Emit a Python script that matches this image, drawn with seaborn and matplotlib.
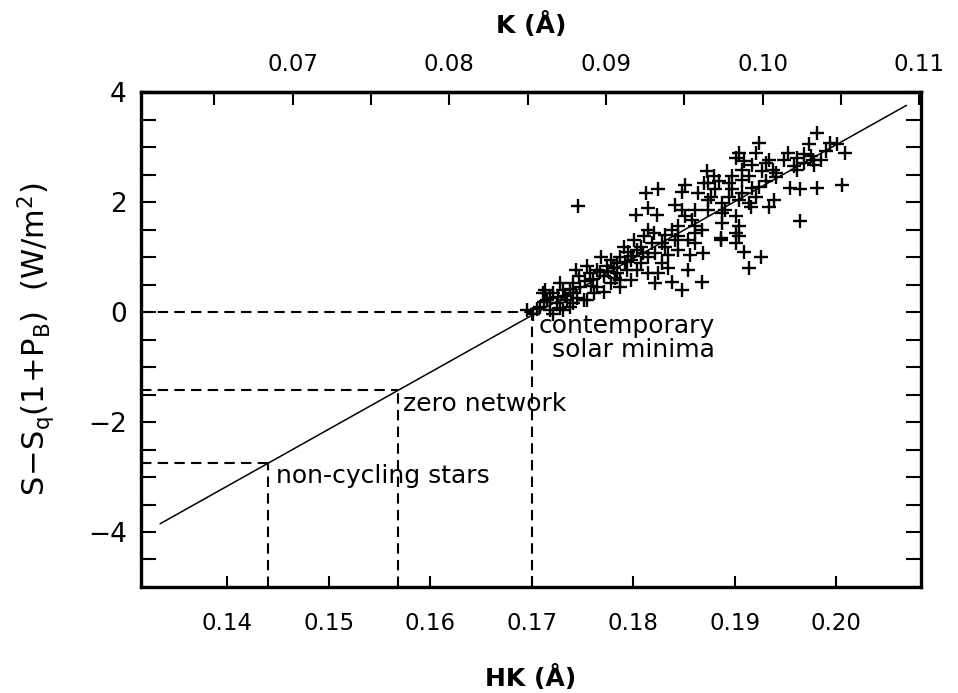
import pandas as pd
import matplotlib
matplotlib.use("Agg")
import matplotlib.pyplot as plt
import seaborn as sns

# HK index (A) and S - Sq(1+PB) (W/m^2)
hk = [0.1746, 0.1981, 0.1973, 0.2001, 0.2009, 0.1994, 0.1924, 0.1952, 0.1961, 0.1977,
      0.1934, 0.1917, 0.1901, 0.1907, 0.1941, 0.1961, 0.1978, 0.1873, 0.1884, 0.1894,
      0.1907, 0.1917, 0.1941, 0.1954, 0.1964, 0.1981, 0.2006, 0.1964, 0.1939, 0.1934,
      0.1916, 0.1904, 0.1894, 0.1877, 0.1874, 0.1887, 0.1901, 0.1904, 0.1901, 0.1904,
      0.1901, 0.1909, 0.1926, 0.1914, 0.1886, 0.1861, 0.1851, 0.1841, 0.1851, 0.1848,
      0.1824, 0.1813, 0.1814, 0.1803, 0.1823, 0.1844, 0.1858, 0.1861, 0.1838, 0.1831,
      0.1814, 0.1820, 0.1828, 0.1844, 0.1854, 0.1861, 0.1886, 0.1869, 0.1856, 0.1854,
      0.1838, 0.1848, 0.1868, 0.1824, 0.1834, 0.1821, 0.1804, 0.1791, 0.1787, 0.1798,
      0.1808, 0.1814, 0.1804, 0.1828, 0.1778, 0.1768, 0.1774, 0.1784, 0.1787, 0.1764,
      0.1754, 0.1744, 0.1747, 0.1757, 0.1771, 0.1778, 0.1787, 0.1761, 0.1754, 0.1741,
      0.1731, 0.1721, 0.1713, 0.1715, 0.1725, 0.1735, 0.1741, 0.1751, 0.1731, 0.1718,
      0.1708, 0.1695, 0.1701, 0.1721, 0.1738, 0.1764, 0.1771, 0.1728, 0.1741, 0.1711,
      0.1801, 0.1811, 0.1831, 0.1890, 0.1887, 0.1880, 0.1897, 0.1907, 0.1914, 0.1924,
      0.1931, 0.1874, 0.1879, 0.1897, 0.1904, 0.1909, 0.1921, 0.1931, 0.1938, 0.1948,
      0.1968, 0.1975, 0.1985, 0.1968, 0.1990, 0.1958, 0.1921, 0.1927, 0.1914, 0.1861,
      0.1868, 0.1848, 0.1874, 0.1864, 0.1887, 0.1844, 0.1834, 0.1814, 0.1794, 0.1784,
      0.1798, 0.1821, 0.1808, 0.1818, 0.1841, 0.1870, 0.1705, 0.1712, 0.1718, 0.1726,
      0.1733, 0.1738, 0.1748, 0.1752, 0.1760, 0.1767, 0.1775, 0.1781, 0.1792, 0.1800,
      0.1810, 0.1795, 0.1728, 0.1745, 0.1758, 0.1782]
s_excess = [1.93, 3.26, 3.05, 3.05, 2.90, 3.08, 3.08, 2.90, 2.81, 2.77,
            2.77, 2.68, 2.81, 2.59, 2.53, 2.59, 2.68, 2.56, 2.38, 2.35,
            2.41, 2.26, 2.45, 2.26, 2.23, 2.26, 2.32, 1.65, 2.04, 1.92,
            1.92, 2.04, 2.10, 2.10, 1.86, 1.80, 1.74, 1.56, 1.44, 1.38,
            1.25, 1.10, 1.01, 0.80, 1.31, 1.86, 1.74, 1.95, 2.32, 2.19,
            2.23, 2.17, 1.89, 1.77, 1.77, 1.56, 1.68, 1.44, 1.50, 1.41,
            1.50, 1.44, 1.25, 1.38, 1.31, 1.25, 1.35, 1.07, 1.04, 0.77,
            0.55, 0.40, 0.55, 0.71, 1.04, 1.07, 1.13, 1.19, 1.01, 0.95,
            0.89, 1.01, 0.77, 0.89, 0.95, 1.01, 0.83, 0.71, 0.46, 0.77,
            0.83, 0.77, 0.65, 0.71, 0.65, 0.53, 0.59, 0.34, 0.22, 0.34,
            0.40, 0.34, 0.40, 0.22, 0.16, 0.22, 0.16, 0.22, 0.04, 0.04,
            0.10, 0.04, -0.03, -0.03, 0.10, 0.46, 0.37, 0.52, 0.52, 0.34,
            1.31, 1.38, 1.19, 1.86, 1.62, 2.23, 2.23, 2.17, 2.47, 2.28,
            2.38, 2.35, 2.47, 2.47, 2.90, 2.74, 2.90, 2.71, 2.59, 2.77,
            2.87, 2.84, 2.77, 2.71, 2.93, 2.65, 2.10, 2.56, 1.98, 1.56,
            1.50, 1.86, 2.04, 2.17, 1.98, 1.13, 0.80, 0.71, 0.77, 0.89,
            0.59, 0.52, 1.19, 1.25, 1.31, 2.35, 0.06, 0.18, 0.25, 0.28,
            0.30, 0.42, 0.45, 0.56, 0.60, 0.72, 0.75, 0.80, 0.92, 1.02,
            1.08, 1.10, 0.08, 0.26, 0.48, 0.62]

# regression line end points
fit_hk = [0.1334, 0.2069]
fit_s = [-3.85, 3.76]

# reference levels
level_names = ['contemporary\nsolar minima', 'zero network', 'non-cycling stars']
level_hk = [0.1700, 0.1568, 0.1440]
level_s = [0.0, -1.42, -2.75]

hk_ticks = [0.14, 0.15, 0.16, 0.17, 0.18, 0.19, 0.20]
k_ticks = [0.07, 0.08, 0.09, 0.10, 0.11]
k_minor = [0.065, 0.075, 0.085, 0.095, 0.105]
y_ticks = [-4, -2, 0, 2, 4]

sns.set_theme(style="ticks")
plt.rcParams['font.family'] = ['DejaVu Sans']
plt.rcParams['mathtext.fontset'] = 'dejavusans'
plt.rcParams['text.color'] = 'black'
plt.rcParams['axes.labelcolor'] = 'black'
plt.rcParams['xtick.color'] = 'black'
plt.rcParams['ytick.color'] = 'black'

df = pd.DataFrame({'HK': hk, 'S': s_excess})

fig = plt.figure(figsize=(9.58, 6.93), dpi=100)
ax = fig.add_axes([0.147, 0.153, 0.814, 0.714])

x0, x1 = 0.1315, 0.2083
y0, y1 = -5, 4

sns.scatterplot(data=df, x='HK', y='S', marker='+', s=110, color='black',
                linewidth=1.7, ax=ax, zorder=3)
sns.lineplot(x=fit_hk, y=fit_s, color='black', linewidth=1.1, ax=ax)

offs = [(0.0007, -0.04), (0.0005, -0.04), (0.0008, -0.02)]
for name, h, v, (dx, dy) in zip(level_names, level_hk, level_s, offs):
    ax.plot([x0, h], [v, v], color='black', lw=1.5, ls=(0, (5, 3)))
    ax.plot([h, h], [y0, v], color='black', lw=1.5, ls=(0, (5, 3)))
    ax.text(h + dx, v + dy, name, ha='left', va='top', fontsize=18,
            multialignment='right', linespacing=1.0)

ax.set_xlim(x0, x1)
ax.set_ylim(y0, y1)
ax.set_xticks(hk_ticks)
ax.set_xticklabels([f'{t:.2f}' for t in hk_ticks])
ax.set_yticks(y_ticks)
ax.set_yticklabels([str(t).replace('-', '\u2212') for t in y_ticks])
ax.set_yticks([v / 2 for v in range(-10, 9)], minor=True)
ax.tick_params(axis='x', which='major', direction='in', length=8, width=1.5,
               labelsize=16.5, pad=18, top=False)
ax.tick_params(axis='y', which='both', direction='in', length=11, width=1.5,
               left=True, right=True, labelsize=19, pad=10)

for sp in ax.spines.values():
    sp.set_linewidth(2.4)
    sp.set_color('black')

secax = ax.secondary_xaxis('top', functions=(lambda x: 0.648 * x - 0.0249,
                                            lambda k: (k + 0.0249) / 0.648))
secax.set_xticks(k_ticks)
secax.set_xticklabels([f'{t:.2f}' for t in k_ticks])
secax.set_xticks(k_minor, minor=True)
secax.tick_params(which='both', direction='in', length=9, width=1.5,
                  labelsize=16.5, pad=12)
secax.spines['top'].set_linewidth(2.4)
secax.set_xlabel('K (Å)', fontsize=18, fontweight='bold', labelpad=14)

ax.set_xlabel('HK (Å)', fontsize=18, fontweight='bold')
ax.xaxis.set_label_coords(0.5, -0.158)
ax.set_ylabel(r'$\mathrm{S\!-\!S_q(1\!+\!P_B)}$  (W/m$^2$)', fontsize=22)
ax.yaxis.set_label_coords(-0.108, 0.5)

fig.savefig('out.png', dpi=100, facecolor='white')
